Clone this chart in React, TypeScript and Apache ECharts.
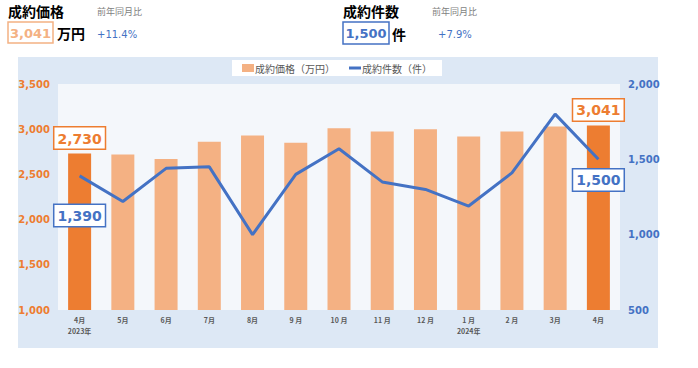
import React, { useEffect, useRef } from "react";
import * as echarts from "echarts";

const categories = ["4月\n2023年", "5月", "6月", "7月", "8月", "9 月", "10 月", "11 月", "12 月", "1 月\n2024年", "2 月", "3月", "4月"];
const priceValues = [2730, 2720, 2670, 2860, 2930, 2850, 3010, 2975, 3000, 2920, 2975, 3030, 3041];
const countValues = [1390, 1220, 1440, 1450, 1000, 1400, 1570, 1350, 1300, 1190, 1410, 1800, 1500];
const priceTicks = { min: 1000, max: 3500, interval: 500 };
const countTicks = { min: 500, max: 2000, interval: 500 };

const ORANGE = "#ed7d31";
const LIGHT_ORANGE = "#f4b183";
const BLUE = "#4472c4";
const FONT = "'DejaVu Sans', Verdana, sans-serif";
const JP = "'Noto Sans CJK JP', sans-serif";

const fmt = (v: number) => v.toLocaleString("en-US");

export default function App() {
  const ref = useRef<HTMLDivElement>(null);
  useEffect(() => {
    const chart = echarts.init(ref.current!, null, { renderer: "svg" });
    const last = priceValues.length - 1;
    const boxLabel = (color: string, extra: any) => ({
      show: true,
      formatter: (p: any) => fmt(p.value),
      color,
      fontFamily: FONT,
      fontWeight: "bold",
      fontSize: 14,
      backgroundColor: "#ffffff",
      borderColor: color,
      borderWidth: 1.5,
      padding: [4, 3, 3, 3],
      ...extra,
    });
    chart.setOption({
      animation: false,
      graphic: [
        { type: "rect", shape: { x: 18, y: 57, width: 640, height: 291 }, style: { fill: "#dde8f5" }, z: -10 },
        { type: "text", x: 8, y: 4, style: { text: "成約価格", font: `bold 14px ${JP}`, fill: "#000" } },
        { type: "text", x: 97, y: 7, style: { text: "前年同月比", font: `9px ${JP}`, fill: "#7f7f7f" } },
        { type: "rect", shape: { x: 8, y: 22, width: 45, height: 21 }, style: { fill: "#fff", stroke: LIGHT_ORANGE, lineWidth: 1.5 } },
        { type: "text", x: 30.5, y: 33, style: { text: "3,041", font: `bold 13px ${FONT}`, fill: LIGHT_ORANGE, align: "center", verticalAlign: "middle" } },
        { type: "text", x: 57, y: 33, style: { text: "万円", font: `bold 14px ${JP}`, fill: "#000", verticalAlign: "middle" } },
        { type: "text", x: 97, y: 34, style: { text: "+11.4%", font: `10px ${FONT}`, fill: BLUE, verticalAlign: "middle" } },
        { type: "text", x: 343, y: 4, style: { text: "成約件数", font: `bold 14px ${JP}`, fill: "#000" } },
        { type: "text", x: 432, y: 7, style: { text: "前年同月比", font: `9px ${JP}`, fill: "#7f7f7f" } },
        { type: "rect", shape: { x: 343, y: 22, width: 46, height: 22 }, style: { fill: "#fff", stroke: BLUE, lineWidth: 1.5 } },
        { type: "text", x: 366, y: 33.5, style: { text: "1,500", font: `bold 13px ${FONT}`, fill: BLUE, align: "center", verticalAlign: "middle" } },
        { type: "text", x: 392, y: 33.5, style: { text: "件", font: `bold 14px ${JP}`, fill: "#000", verticalAlign: "middle" } },
        { type: "text", x: 438, y: 34, style: { text: "+7.9%", font: `10px ${FONT}`, fill: BLUE, verticalAlign: "middle" } },
      ],
      legend: {
        top: 60,
        left: 232,
        backgroundColor: "#ffffff",
        padding: [3, 10, 3, 10],
        itemGap: 14,
        itemWidth: 12,
        itemHeight: 8,
        textStyle: { fontFamily: JP, fontSize: 10, color: "#595959", padding: [0, 0, 0, -4] },
        data: [
          { name: "成約価格（万円）", icon: "rect", itemStyle: { color: LIGHT_ORANGE } },
          { name: "成約件数（件）", icon: "path://M0,0 H12 V3 H0 Z", itemStyle: { color: BLUE } },
        ],
      },
      grid: {
        left: 58,
        right: 78,
        top: 84,
        bottom: 58,
        show: true,
        backgroundColor: "#f4f7fb",
        borderWidth: 0,
      },
      xAxis: {
        type: "category",
        data: categories,
        axisLine: { show: false },
        axisTick: { show: false },
        axisLabel: { fontFamily: JP, fontSize: 7, fontWeight: "bold", color: "#595959", margin: 4, lineHeight: 11 },
      },
      yAxis: [
        {
          type: "value",
          ...priceTicks,
          splitLine: { show: false },
          axisLabel: { color: ORANGE, fontFamily: FONT, fontSize: 10, fontWeight: "bold", formatter: (v: number) => fmt(v) },
        },
        {
          type: "value",
          ...countTicks,
          position: "right",
          splitLine: { show: false },
          axisLabel: { color: BLUE, fontFamily: FONT, fontSize: 10, fontWeight: "bold", formatter: (v: number) => fmt(v) },
        },
      ],
      series: [
        {
          name: "成約価格（万円）",
          type: "bar",
          barWidth: 23,
          yAxisIndex: 0,
          itemStyle: { color: LIGHT_ORANGE },
          data: priceValues.map((v, i) =>
            i === 0 || i === last
              ? { value: v, itemStyle: { color: ORANGE }, label: boxLabel(ORANGE, { position: "top", distance: 5 }) }
              : v
          ),
          z: 2,
        },
        {
          name: "成約件数（件）",
          type: "line",
          yAxisIndex: 1,
          symbol: "circle",
          symbolSize: 0.1,
          lineStyle: { color: BLUE, width: 3 },
          itemStyle: { color: BLUE },
          data: countValues.map((v, i) =>
            i === 0
              ? { value: v, label: boxLabel(BLUE, { position: "bottom", distance: 29 }) }
              : i === last
              ? { value: v, label: boxLabel(BLUE, { position: "bottom", distance: 10 }) }
              : v
          ),
          z: 3,
        },
      ],
    });
    return () => chart.dispose();
  }, []);
  return <div ref={ref} style={{ position: "absolute", left: 0, top: 0, width: 698, height: 368 }} />;
}
